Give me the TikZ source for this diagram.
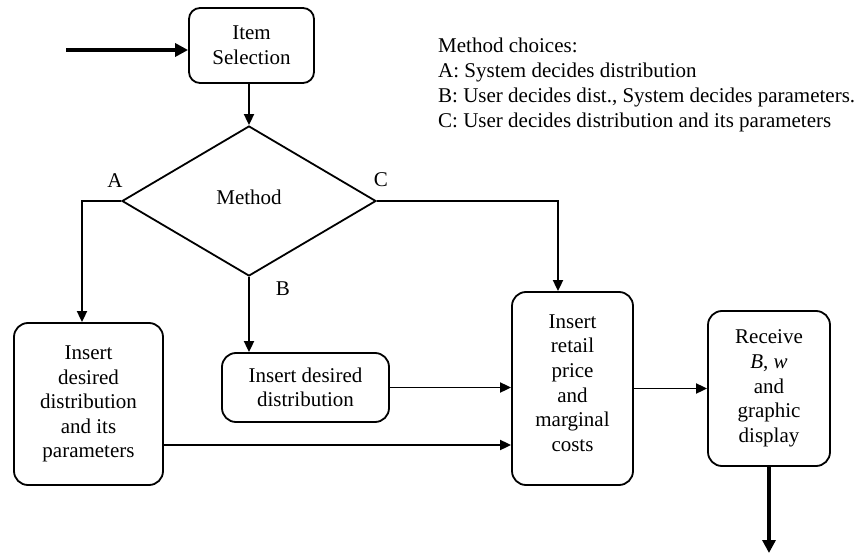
\documentclass[tikz,border=0pt]{standalone}
\usepackage{fontspec}
\setmainfont{Liberation Serif}
\usetikzlibrary{shapes.geometric,arrows.meta}
\tikzset{
  box/.style={draw, line width=1.8pt, rounded corners=14pt, align=center, inner sep=0pt},
  arr/.style={line width=1.8pt, -{Triangle[length=11pt,width=10pt]}},
  bigarr/.style={line width=3.6pt, -{Triangle[length=13pt,width=13pt]}},
  lbl/.style={inner sep=0pt}
}
\begin{document}
\begin{tikzpicture}[x=1pt,y=-1pt,font=\fontsize{21}{24.6}\selectfont]
\useasboundingbox (0,0) rectangle (863,554);
% nodes
\node[box, rounded corners=11pt, minimum width=125pt, minimum height=75pt] (item) at (251.5,45.5) {Item\\Selection};
\node[draw, line width=1.8pt, diamond, aspect=1.69, minimum width=254pt, minimum height=150pt, inner sep=0pt] (dia) at (249,201) {};
\node[lbl] (meth) at (249,197) {Method};
\node[lbl] (la) at (115,181) {A};
\node[lbl] (lc) at (381,180) {C};
\node[lbl] (lb) at (283,289) {B};
\node[box, minimum width=149pt, minimum height=162pt] (left) at (88.5,404) {Insert\\desired\\distribution\\and its\\parameters};
\node[box, minimum width=167pt, minimum height=69pt] (bbox) at (305.5,387.5) {Insert desired\\distribution};
\node[box, minimum width=121pt, minimum height=193pt] (retail) at (572.5,388.5) {};
\node[lbl, align=center] (rtext) at (572.5,383) {Insert\\retail\\price\\and\\marginal\\costs};
\node[box, minimum width=122pt, minimum height=155pt] (recv) at (769,388.5) {Receive\\\textit{B}, \textit{w}\\and\\graphic\\display};
\node[lbl, anchor=north west, align=left, font=\fontsize{21}{25}\selectfont] (legend) at (438,38) {Method choices:\\A: System decides distribution\\B: User decides dist., System decides parameters.\\C: User decides distribution and its parameters};
\coordinate (start) at (66,50);
\coordinate (end) at (769,553);
% connectors
\draw[bigarr] (start) -- (start -| item.west);
\draw[arr] (dia.north |- item.south) -- (dia.north);
\draw[arr] (dia.west) -| ([xshift=-6.5pt]left.north);
\draw[arr] (dia.south) -- (dia.south |- bbox.north);
\draw[arr] (dia.east) -| ([xshift=-14.5pt]retail.north);
\draw[arr] (bbox.east) -- (bbox.east -| retail.west);
\draw[arr] ([yshift=-41pt]left.east) -- ([yshift=-41pt]left.east -| retail.west);
\draw[arr] (retail.east) -- (retail.east -| recv.west);
\draw[bigarr] (recv.south) -- (end);
\end{tikzpicture}
\end{document}
